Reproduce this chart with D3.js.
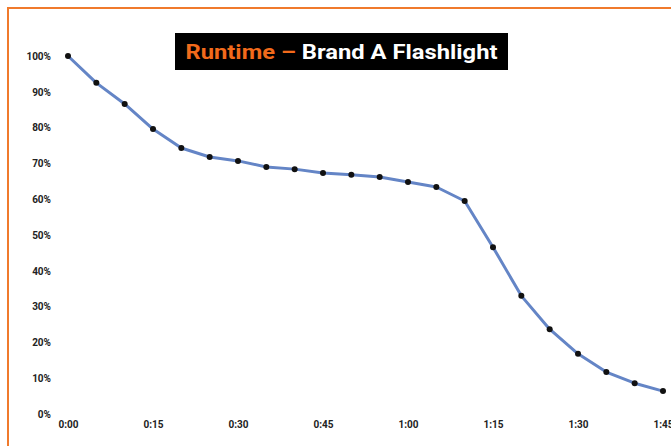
<!DOCTYPE html>
<html>
<head>
	<title>Runtime - Brand A Flashlight</title>
	<script src="https://cdn.jsdelivr.net/npm/d3@7/dist/d3.min.js"></script>
	<style>
		body { margin: 0; background: #fff; }
		svg text { font-family: Roboto, sans-serif; }
	</style>
</head>
<body>
	<svg id="chart" width="671" height="446"></svg>

	<script>
		// minutes since start, one reading every 5 min
		var minutes = [0, 5, 10, 15, 20, 25, 30, 35, 40, 45, 50, 55, 60, 65, 70, 75, 80, 85, 90, 95, 100, 105];
		var output = [100, 92.5, 86.6, 79.6, 74.3, 71.8, 70.7, 69.0, 68.4, 67.3, 66.8, 66.2, 64.8, 63.4, 59.5, 46.6, 33.0, 23.7, 16.8, 11.7, 8.6, 6.4];
		var xTicks = [0, 15, 30, 45, 60, 75, 90, 105];
		var xTickLabels = ['0:00', '0:15', '0:30', '0:45', '1:00', '1:15', '1:30', '1:45'];
		var yTicks = [0, 10, 20, 30, 40, 50, 60, 70, 80, 90, 100];

		var data = minutes.map((m, i) => ({ m: m, v: output[i] }));

		var svg = d3.select('#chart');

		// orange frame running off the right / bottom edge
		svg.append('path')
			.attr('d', 'M8,460 L8,8 L690,8')
			.attr('fill', 'none')
			.attr('stroke', '#f07a2c')
			.attr('stroke-width', 2);

		var x = d3.scaleLinear().domain([0, 105]).range([68, 663]);
		var y = d3.scaleLinear().domain([0, 100]).range([414, 56]);

		// y axis
		var yAxis = svg.append('g')
			.attr('transform', 'translate(51,0)')
			.call(d3.axisLeft(y).tickValues(yTicks).tickSize(0).tickPadding(0).tickFormat(d => d + '%'));
		yAxis.select('.domain').remove();
		yAxis.selectAll('text')
			.attr('font-size', '10px')
			.attr('font-weight', 'bold')
			.attr('fill', '#222');

		// x axis
		var xAxis = svg.append('g')
			.attr('transform', 'translate(0,421)')
			.call(d3.axisBottom(x).tickValues(xTicks).tickSize(0).tickPadding(0)
				.tickFormat((d, i) => xTickLabels[i]));
		xAxis.select('.domain').remove();
		xAxis.selectAll('text')
			.attr('font-size', '10px')
			.attr('font-weight', 'bold')
			.attr('fill', '#222');

		// line
		var line = d3.line()
			.x(d => x(d.m))
			.y(d => y(d.v));

		svg.append('path')
			.datum(data)
			.attr('d', line)
			.attr('fill', 'none')
			.attr('stroke', '#6485c6')
			.attr('stroke-width', 3)
			.attr('stroke-linejoin', 'round');

		svg.selectAll('.dot')
			.data(data)
			.enter()
			.append('circle')
			.attr('class', 'dot')
			.attr('cx', d => x(d.m))
			.attr('cy', d => y(d.v))
			.attr('r', 3)
			.attr('fill', '#111');

		// title box
		svg.append('rect')
			.attr('x', 175)
			.attr('y', 33)
			.attr('width', 333)
			.attr('height', 37)
			.attr('fill', '#000');

		var title = svg.append('text')
			.attr('x', 341.5)
			.attr('y', 59)
			.attr('text-anchor', 'middle')
			.attr('font-size', '20px')
			.attr('font-weight', 'bold')
			.attr('textLength', 312)
			.attr('lengthAdjust', 'spacingAndGlyphs');
		title.append('tspan').attr('fill', '#f26a1b').text('Runtime – ');
		title.append('tspan').attr('fill', '#fff').text('Brand A Flashlight');
	</script>
</body>
</html>
